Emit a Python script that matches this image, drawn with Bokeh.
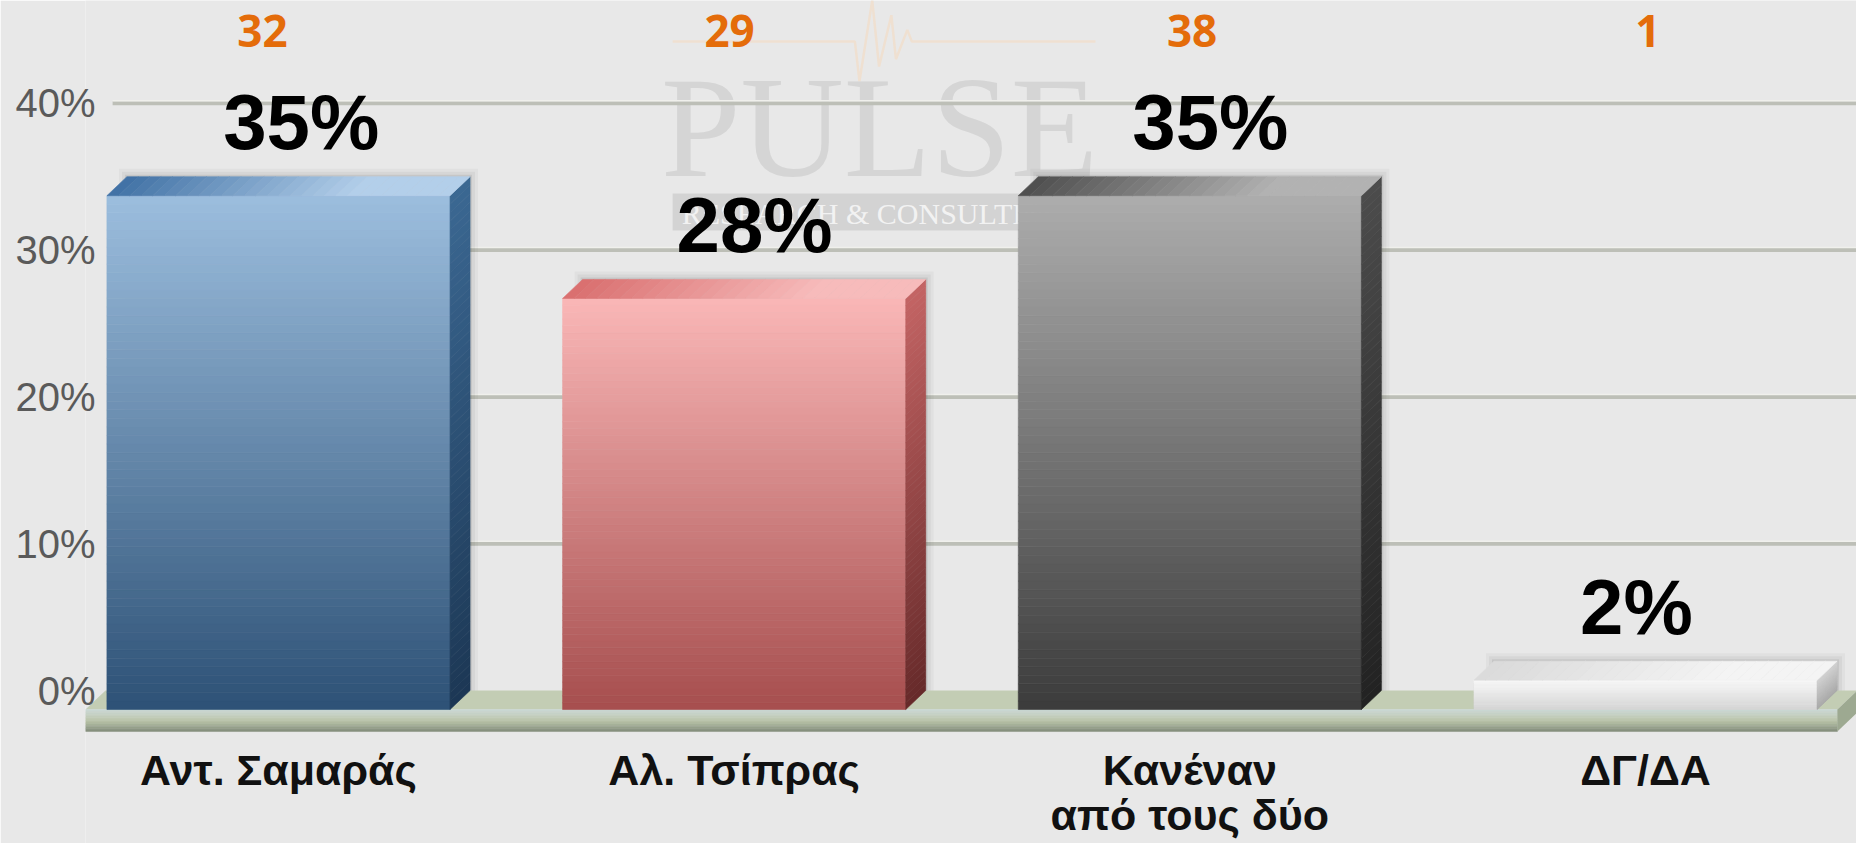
from bokeh.plotting import figure
from bokeh.models import Range1d, FixedTicker
from bokeh.core.properties import value
from bokeh.embed import file_html
from bokeh.resources import INLINE

# ---------------- data ----------------
categories = ["Αντ. Σαμαράς", "Αλ. Τσίπρας", "Κανέναν\nαπό τους δύο", "ΔΓ/ΔΑ"]
values = [35, 28, 35, 2]
counts = [32, 29, 38, 1]
tick_values = [0, 10, 20, 30, 40]
tick_labels = ["0%", "10%", "20%", "30%", "40%"]

# ---------------- styles / layout ----------------
front_top = ["#9CBEDE", "#FAB7B7", "#ADADAD", "#F8F8F8"]
front_bot = ["#2D5176", "#A64E4E", "#3B3B3B", "#D6D6D6"]
side_top = ["#3B6893", "#C46464", "#4C4C4C", "#D2D2D2"]
side_bot = ["#1C3754", "#662A2A", "#222222", "#A9A9A9"]
topf_l = ["#3F70A4", "#D96E6E", "#4E4E4E", "#DADADA"]
topf_r = ["#B3CFEA", "#F7BBBB", "#B2B2B2", "#F4F4F4"]
label_dx = [0.05, 0.045, 0.045, -0.02]
count_dx = [-0.035, -0.01, 0.005, 0.005]

BG = "#E8E8E8"
PX_X = 1 / 455.7   # data units per pixel (x)
PX_Y = 1 / 14.68   # data units per pixel (y)
D = 19 * PX_Y      # depth (y)
DX = 20 * PX_X     # depth (x)
W = 0.753          # bar width
FL = 22 * PX_Y     # floor thickness
X0, X1 = -0.4235, 3.463
Y0, Y1 = -10.42, 47.0


def hx(c):
    c = c.lstrip("#")
    return [int(c[i:i + 2], 16) for i in (0, 2, 4)]


def lerp(c1, c2, t):
    a, b = hx(c1), hx(c2)
    return "#%02x%02x%02x" % tuple(int(round(a[i] + (b[i] - a[i]) * t)) for i in range(3))


p = figure(frame_width=1771, frame_height=843,
           x_range=Range1d(X0, X1), y_range=Range1d(Y0, Y1),
           x_axis_location=None, output_backend="svg", toolbar_location=None,
           min_border=0, min_border_left=85, background_fill_color=BG, border_fill_color=BG,
           outline_line_color=None)

p.xgrid.visible = False
p.ygrid.visible = False
p.yaxis.ticker = FixedTicker(ticks=tick_values)
p.yaxis.major_label_overrides = {t: l for t, l in zip(tick_values, tick_labels)}
p.yaxis.axis_line_color = None
p.yaxis.major_tick_line_color = None
p.yaxis.minor_tick_line_color = None
p.yaxis.major_tick_out = 0
p.yaxis.major_tick_in = 0
p.yaxis.major_label_text_font = "Liberation Sans"
p.yaxis.major_label_text_font_size = "40px"
p.yaxis.major_label_text_color = "#5A5A5A"
p.yaxis.major_label_standoff = -10

# ---------------- watermark ----------------
p.line([0.865, 1.265, 1.275, 1.303, 1.318, 1.345, 1.355, 1.38, 1.39, 1.793],
       [44.2, 44.2, 41.5, 47.0, 42.5, 46.0, 43.0, 45.0, 44.2, 44.2],
       line_color="#EFE0D1", line_width=2.5)
p.text([1.319], [38.3], text=["PULSE"], text_align="center",
       text_baseline="middle", text_font=value("Liberation Serif"),
       text_font_size="143px", text_color="#D5D5D5")
p.quad(left=[0.865], right=[1.66], bottom=[31.33], top=[33.86],
       fill_color="#D3D3D3", line_color=None)
p.text([0.885], [32.5], text=["RESEARCH & CONSULTING"], text_align="left",
       text_baseline="middle", text_font=value("Liberation Serif"),
       text_font_size="30px", text_color="#F2F2F2")

# ---------------- gridlines ----------------
grid_y = [t for t in tick_values if t > 0]
p.segment(x0=[-0.364] * len(grid_y), x1=[X1] * len(grid_y), y0=grid_y, y1=grid_y,
          line_color="#BDBFB7", line_width=4)
p.segment(x0=[-0.364] * len(grid_y), x1=[X1] * len(grid_y),
          y0=[g + 2.5 * PX_Y for g in grid_y], y1=[g + 2.5 * PX_Y for g in grid_y],
          line_color="#F0F0EC", line_width=1.5)

# ---------------- floor ----------------
fl_l, fl_r = X0, 3.421
p.patch([fl_l, fl_l + DX, fl_r + DX, fl_r], [-D, 0, 0, -D],
        fill_color="#C3CDB4", line_color=None)
N = 14
fq = dict(l=[], r=[], b=[], t=[], c=[])
for k in range(N):
    y1 = -D - FL * k / N
    y0 = -D - FL * (k + 1) / N
    t = k / (N - 1)
    col = lerp("#CBD7D4", "#BCC6AC", t / 0.5) if t < 0.5 else lerp("#BCC6AC", "#87917E", (t - 0.5) / 0.5)
    fq["l"].append(fl_l); fq["r"].append(fl_r); fq["b"].append(y0); fq["t"].append(y1); fq["c"].append(col)
p.quad(left=fq["l"], right=fq["r"], bottom=fq["b"], top=fq["t"], fill_color=fq["c"], line_color=fq["c"], line_width=0.5)
p.patch([fl_r, fl_r + DX, fl_r + DX, fl_r], [-D, 0, -FL, -D - FL],
        fill_color="#9DA991", line_color=None)

# ---------------- bars ----------------
NS = 60
for i, v in enumerate(values):
    L, R = i - W / 2, i + W / 2
    for s, a in ((8, 0.03), (5, 0.045), (2, 0.07)):
        p.patch([L + DX - s * PX_X, L + DX - s * PX_X, R + DX + s * PX_X, R + DX + s * PX_X],
                [0, v + s * PX_Y, v + s * PX_Y, 0], fill_color="#000000", fill_alpha=a, line_color=None)
    fr = dict(l=[], r=[], b=[], t=[], c=[])
    sx, sy, sc = [], [], []
    for k in range(NS):
        ya = v * k / NS
        yb = v * (k + 1) / NS
        t = 1 - (k + 0.5) / NS
        col = lerp(front_top[i], front_bot[i], t)
        fr["l"].append(L); fr["r"].append(R)
        fr["b"].append(ya - D); fr["t"].append(yb - D); fr["c"].append(col)
        sx.append([R, R + DX, R + DX, R])
        sy.append([ya - D, ya, yb, yb - D])
        sc.append(lerp(side_top[i], side_bot[i], t))
    p.quad(left=fr["l"], right=fr["r"], bottom=fr["b"], top=fr["t"],
           fill_color=fr["c"], line_color=fr["c"], line_width=0.6)
    p.patches(sx, sy, fill_color=sc, line_color=sc, line_width=0.6)
    tx, ty, tc = [], [], []
    NT = 30
    for k in range(NT):
        xa = L + (R - L) * k / NT
        xb = L + (R - L) * (k + 1) / NT
        tx.append([xa, xa + DX, xb + DX, xb])
        ty.append([v - D, v, v, v - D])
        tc.append(lerp(topf_l[i], topf_r[i], min(1.0, (k + 0.5) / NT * 1.4)))
    p.patches(tx, ty, fill_color=tc, line_color=tc, line_width=0.6)

# ---------------- labels ----------------
xs = list(range(len(categories)))
p.text([x + d for x, d in zip(xs, label_dx)], [v + 3.7 for v in values],
       text=[f"{v}%" for v in values], text_align="center", text_baseline="middle",
       text_font=value("Liberation Sans"), text_font_style="bold",
       text_font_size="78px", text_color="#000000")
p.text([x + d for x, d in zip(xs, count_dx)], [44.9] * len(xs), text=[str(c) for c in counts],
       text_align="center", text_baseline="middle", text_font=value("Open Sans"),
       text_font_style="bold", text_font_size="44px", text_color="#E46C0A")
p.text(xs, [-3.8] * len(xs), text=categories, text_align="center", text_baseline="top",
       text_font=value("Liberation Sans"), text_font_style="bold",
       text_font_size="43px", text_color="#111111", text_line_height=0.94)

open("out.html", "w").write(file_html(p, INLINE))
